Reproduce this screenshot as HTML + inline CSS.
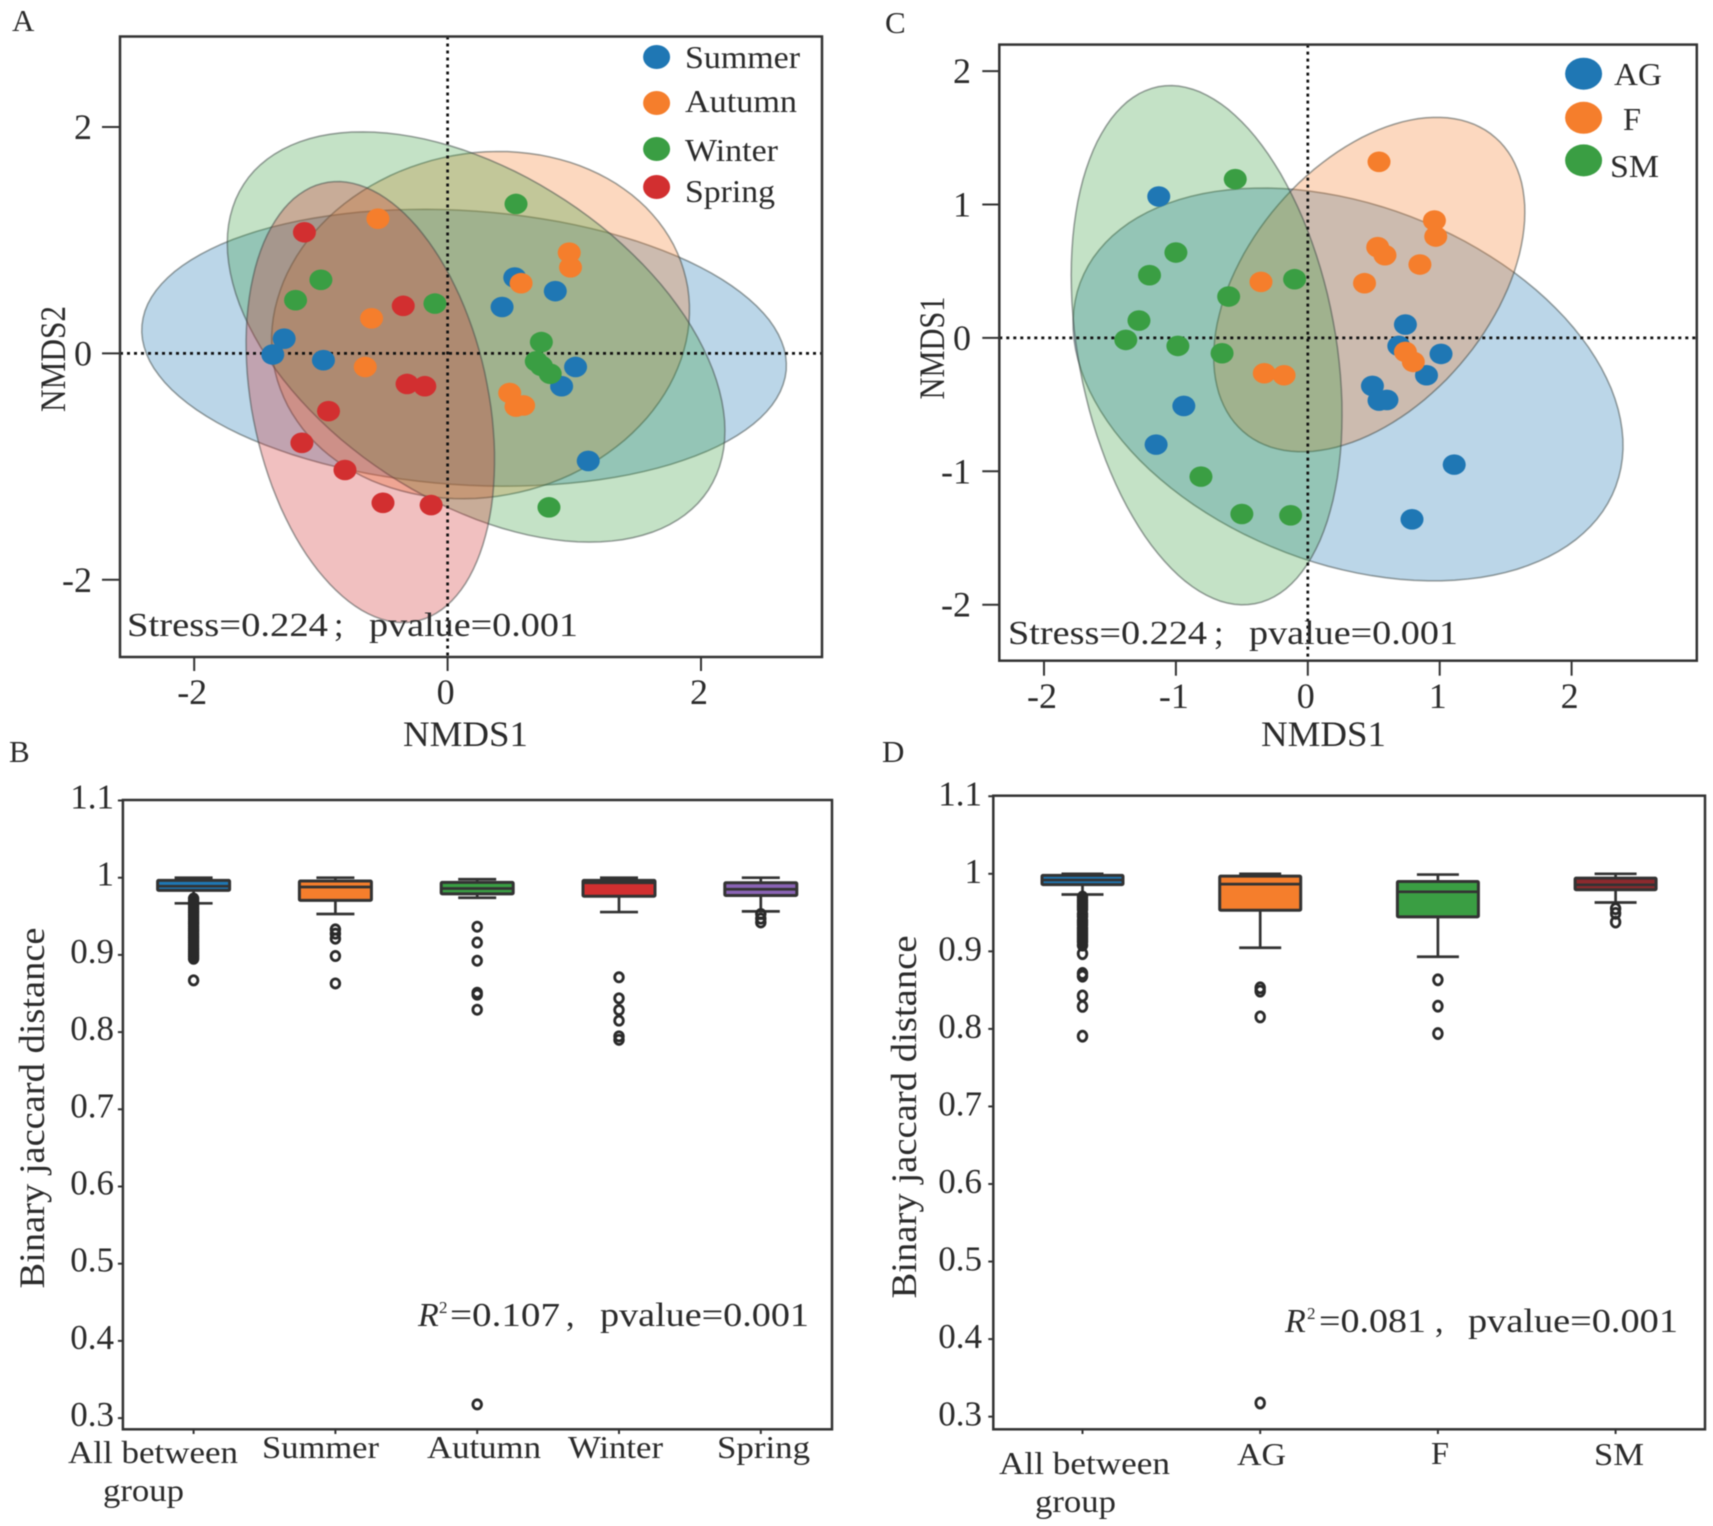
<!DOCTYPE html>
<html lang="en">
<head>
<meta charset="utf-8">
<title>NMDS ordination and Binary Jaccard distance panels</title>
<style>
html,body{margin:0;padding:0;background:#fff;width:1713px;height:1526px;overflow:hidden}
svg{display:block;filter:blur(.55px)}
text{font-family:"Liberation Serif","Noto Serif CJK SC",serif;fill:#2b2b2b}
</style>
</head>
<body>
<svg id="figure" xmlns="http://www.w3.org/2000/svg" width="1713" height="1526" viewBox="0 0 1713 1526">
  <rect width="1713" height="1526" fill="#fff"/>

  <text x="12" y="31" font-size="31">A</text>
  <text x="9" y="762" font-size="31">B</text>
  <text x="885" y="33" font-size="31">C</text>
  <text x="882" y="762" font-size="31">D</text>

  <g id="panel-a"></g>
  <g id="panel-c"></g>
  <g id="panel-b"></g>
  <g id="panel-d"></g>

  <g id="annotations">
    <text x="403" y="746" font-size="36" textLength="125" lengthAdjust="spacingAndGlyphs">NMDS1</text>
    <text transform="translate(65 359) rotate(-90)" text-anchor="middle" font-size="36" textLength="106" lengthAdjust="spacingAndGlyphs">NMDS2</text>
    <text x="685" y="68" font-size="32" textLength="115" lengthAdjust="spacingAndGlyphs">Summer</text>
    <text x="685" y="112" font-size="32" textLength="112" lengthAdjust="spacingAndGlyphs">Autumn</text>
    <text x="685" y="161" font-size="32" textLength="93" lengthAdjust="spacingAndGlyphs">Winter</text>
    <text x="685" y="202" font-size="32" textLength="90" lengthAdjust="spacingAndGlyphs">Spring</text>
    <text x="127" y="636" font-size="34" textLength="201" lengthAdjust="spacingAndGlyphs">Stress=0.224</text>
    <text x="334" y="636" font-size="34">;</text>
    <text x="369" y="636" font-size="34" textLength="209" lengthAdjust="spacingAndGlyphs">pvalue=0.001</text>

    <text x="1261" y="746" font-size="36" textLength="125" lengthAdjust="spacingAndGlyphs">NMDS1</text>
    <text transform="translate(944 348) rotate(-90)" text-anchor="middle" font-size="36" textLength="103" lengthAdjust="spacingAndGlyphs">NMDS1</text>
    <text x="1614" y="85" font-size="32" textLength="48" lengthAdjust="spacingAndGlyphs">AG</text>
    <text x="1623" y="130" font-size="32" textLength="18" lengthAdjust="spacingAndGlyphs">F</text>
    <text x="1610" y="177" font-size="32" textLength="49" lengthAdjust="spacingAndGlyphs">SM</text>
    <text x="1008" y="644" font-size="34" textLength="199" lengthAdjust="spacingAndGlyphs">Stress=0.224</text>
    <text x="1214" y="644" font-size="34">;</text>
    <text x="1249" y="644" font-size="34" textLength="209" lengthAdjust="spacingAndGlyphs">pvalue=0.001</text>

    <text transform="translate(44 1108) rotate(-90)" text-anchor="middle" font-size="36" textLength="361" lengthAdjust="spacingAndGlyphs">Binary jaccard distance</text>
    <text x="418" y="1326" font-size="34" font-style="italic">R</text>
    <text x="439" y="1313" font-size="17">2</text>
    <text x="450" y="1326" font-size="34" textLength="110" lengthAdjust="spacingAndGlyphs">=0.107</text>
    <text x="566" y="1326" font-size="34">,</text>
    <text x="600" y="1326" font-size="34" textLength="209" lengthAdjust="spacingAndGlyphs">pvalue=0.001</text>
    <text x="68" y="1463" font-size="32" textLength="170" lengthAdjust="spacingAndGlyphs">All between</text>
    <text x="103" y="1501" font-size="32" textLength="81" lengthAdjust="spacingAndGlyphs">group</text>
    <text x="262" y="1458" font-size="32" textLength="117" lengthAdjust="spacingAndGlyphs">Summer</text>
    <text x="427" y="1458" font-size="32" textLength="114" lengthAdjust="spacingAndGlyphs">Autumn</text>
    <text x="568" y="1458" font-size="32" textLength="95" lengthAdjust="spacingAndGlyphs">Winter</text>
    <text x="717" y="1458" font-size="32" textLength="93" lengthAdjust="spacingAndGlyphs">Spring</text>

    <text transform="translate(916 1117) rotate(-90)" text-anchor="middle" font-size="36" textLength="363" lengthAdjust="spacingAndGlyphs">Binary jaccard distance</text>
    <text x="1285" y="1332" font-size="34" font-style="italic">R</text>
    <text x="1307" y="1319" font-size="17">2</text>
    <text x="1319" y="1332" font-size="34" textLength="107" lengthAdjust="spacingAndGlyphs">=0.081</text>
    <text x="1435" y="1332" font-size="34">,</text>
    <text x="1468" y="1332" font-size="34" textLength="210" lengthAdjust="spacingAndGlyphs">pvalue=0.001</text>
    <text x="999" y="1474" font-size="32" textLength="171" lengthAdjust="spacingAndGlyphs">All between</text>
    <text x="1035" y="1512" font-size="32" textLength="81" lengthAdjust="spacingAndGlyphs">group</text>
    <text x="1237" y="1465" font-size="32" textLength="49" lengthAdjust="spacingAndGlyphs">AG</text>
    <text x="1431" y="1464" font-size="32" textLength="18" lengthAdjust="spacingAndGlyphs">F</text>
    <text x="1594" y="1465" font-size="32" textLength="50" lengthAdjust="spacingAndGlyphs">SM</text>
  </g>
</svg>

<script>
/* ---------- Panel A data ---------- */
const aSummerX = [0.53, 0.85, 0.43, -1.29, -1.38, -0.98, 1.01, 0.90, 1.11];
const aSummerY = [0.67, 0.55, 0.41, 0.13, -0.01, -0.06, -0.12, -0.29, -0.95];
const aAutumnX = [-0.55, 0.96, 0.97, 0.58, -0.60, -0.65, 0.49, 0.54, 0.60];
const aAutumnY = [1.19, 0.89, 0.76, 0.62, 0.31, -0.12, -0.35, -0.47, -0.46];
const aWinterX = [0.54, -1.00, -1.20, -0.10, 0.74, 0.70, 0.74, 0.81, 0.80];
const aWinterY = [1.32, 0.65, 0.47, 0.44, 0.10, -0.07, -0.11, -0.18, -1.36];
const aSpringX = [-1.13, -0.35, -0.32, -0.18, -0.94, -1.15, -0.81, -0.51, -0.13];
const aSpringY = [1.07, 0.42, -0.27, -0.29, -0.51, -0.79, -1.03, -1.32, -1.34];
/* confidence ellipses, in axis units: summer, autumn, winter, spring */
const aEllipseCx = [0.13, 0.26, 0.225, -0.61];
const aEllipseCy = [0.05, 0.25, 0.145, -0.43];
const aEllipseMajor = [2.55, 1.68, 2.285, 1.97];
const aEllipseMinor = [1.21, 1.50, 1.385, 0.935];
const aEllipseAngle = [-4.5, 25, -40, -80.2];
const aTicks = [-2, 0, 2];

/* ---------- Panel C data ---------- */
const cAgX = [-1.13, 0.74, 0.69, 1.01, 0.90, 0.49, 0.54, 0.60, -0.94, -1.15, 1.11, 0.79];
const cAgY = [1.06, 0.10, -0.06, -0.12, -0.28, -0.36, -0.47, -0.465, -0.51, -0.80, -0.95, -1.36];
const cFX = [0.54, 0.96, 0.97, 0.53, 0.585, 0.85, 0.43, -0.355, 0.74, 0.80, -0.33, -0.18];
const cFY = [1.32, 0.88, 0.76, 0.68, 0.62, 0.55, 0.41, 0.42, -0.105, -0.18, -0.265, -0.28];
const cSmX = [-0.55, -1.00, -1.20, -0.10, -0.60, -1.28, -1.38, -0.985, -0.65, -0.81, -0.50, -0.13];
const cSmY = [1.19, 0.64, 0.47, 0.44, 0.31, 0.13, -0.015, -0.06, -0.115, -1.04, -1.32, -1.33];
/* confidence ellipses, in axis units: AG, F, SM */
const cEllipseCx = [0.305, 0.466, -0.767];
const cEllipseCy = [-0.349, 0.40, -0.055];
const cEllipseMajor = [2.169, 1.459, 1.972];
const cEllipseMinor = [1.345, 0.913, 0.976];
const cEllipseAngle = [-20.6, 49, -79.3];
const cTicksX = [-2, -1, 0, 1, 2];
const cTicksY = [2, 1, 0, -1, -2];

/* ---------- Panel B data ---------- */
const distanceTicks = [1.1, 1, 0.9, 0.8, 0.7, 0.6, 0.5, 0.4, 0.3];
const distanceTickLabels = ['1.1', '1', '0.9', '0.8', '0.7', '0.6', '0.5', '0.4', '0.3'];
const bQ1 = [0.9836, 0.9706, 0.979, 0.976, 0.977];
const bMedian = [0.989, 0.988, 0.986, 0.9935, 0.985];
const bQ3 = [0.9965, 0.9957, 0.994, 0.9965, 0.9935];
const bWhiskerLow = [0.9668, 0.953, 0.974, 0.9555, 0.9564];
const bWhiskerHigh = [1.0, 1.0, 0.998, 1.0, 1.0];
const bOutliersAll = [0.973, 0.97, 0.967, 0.964, 0.961, 0.958, 0.955, 0.952, 0.949, 0.946, 0.943, 0.94, 0.937, 0.934, 0.931, 0.928, 0.925, 0.922, 0.919, 0.916, 0.913, 0.91, 0.907, 0.904, 0.901, 0.898, 0.895, 0.867];
const bOutliersSummer = [0.933, 0.9275, 0.921, 0.8985, 0.863];
const bOutliersAutumn = [0.9365, 0.916, 0.8925, 0.851, 0.8485, 0.829, 0.3177];
const bOutliersWinter = [0.871, 0.8437, 0.8286, 0.8148, 0.7945, 0.79];
const bOutliersSpring = [0.953, 0.947, 0.942];

/* ---------- Panel D data ---------- */
const dQ1 = [0.986, 0.953, 0.9445, 0.9794];
const dMedian = [0.992, 0.9867, 0.9768, 0.9858];
const dQ3 = [0.998, 0.997, 0.99, 0.9944];
const dWhiskerLow = [0.9733, 0.9046, 0.893, 0.963];
const dWhiskerHigh = [1.0, 1.0, 0.999, 1.0];
const dOutliersAll = [0.97, 0.966, 0.963, 0.96, 0.957, 0.954, 0.948, 0.945, 0.94, 0.937, 0.934, 0.93, 0.927, 0.924, 0.921, 0.918, 0.915, 0.912, 0.908, 0.897, 0.8715, 0.868, 0.8426, 0.829, 0.7906];
const dOutliersAg = [0.853, 0.8487, 0.8155, 0.3176];
const dOutliersF = [0.8633, 0.8293, 0.794];
const dOutliersSm = [0.955, 0.949, 0.9377];

/* ---------- Axis functions ---------- */
const xA = v => 447.6 + 126.7 * v;
const yA = v => 353.4 - 113.2 * v;
const xC = v => 1307.8 + 131.9 * v;
const yC = v => 337.9 - 133.4 * v;
const xB = i => 193.6 + 141.8 * i;
const yB = v => 877.7 + (1 - v) * 772;
const xD = i => 1082.5 + 177.7 * i;
const yD = v => 873.8 + (1 - v) * 775.5;

const SVG_NS = 'http://www.w3.org/2000/svg';
const INK = '#333333';

function mk(tag, attrs, parent) {
  const el = document.createElementNS(SVG_NS, tag);
  for (const k in attrs) el.setAttribute(k, attrs[k]);
  parent.appendChild(el);
  return el;
}

function drawFrame(g, prefix, l, t, r, b) {
  const frame = mk('rect', {x: l, y: t, width: r - l, height: b - t, fill: 'none', stroke: INK, 'stroke-width': 2.5}, g);
  
  
}

function drawEllipses(g, prefix, names, colors, cx, cy, major, minor, angle, xs, ys) {
  names.forEach((name, i) => {
    const th = angle[i] * Math.PI / 180;
    let d = '';
    for (let s = 0; s < 120; s++) {
      const t = s / 120 * 2 * Math.PI;
      const u = major[i] * Math.cos(t);
      const v = minor[i] * Math.sin(t);
      const px = xs(cx[i] + u * Math.cos(th) - v * Math.sin(th));
      const py = ys(cy[i] + u * Math.sin(th) + v * Math.cos(th));
      d += (s ? 'L' : 'M') + px.toFixed(1) + ' ' + py.toFixed(1);
    }
    const e = mk('path', {d: d + 'Z', fill: colors[i], 'fill-opacity': 0.3, stroke: '#3f4a48', 'stroke-opacity': 0.5, 'stroke-width': 1.6}, g);
    
    
  });
}

function drawZeroLines(g, prefix, l, t, r, b, x0, y0) {
  const h = mk('line', {x1: l, x2: r, y1: y0, y2: y0, stroke: '#111', 'stroke-width': 2.7, 'stroke-dasharray': '3 4'}, g);
  
  
  const v = mk('line', {x1: x0, x2: x0, y1: t, y2: b, stroke: '#111', 'stroke-width': 2.7, 'stroke-dasharray': '3 4'}, g);
  
  
}

function drawPoints(g, name, color, xv, yv, xs, ys) {
  xv.forEach((v, i) => {
    const c = mk('ellipse', {cx: xs(v), cy: ys(yv[i]), rx: 11.5, ry: 10.3, fill: color}, g);
    
    
  });
}

function drawTicksX(g, prefix, ticks, xs, bottom, len, offset, labelBase, size) {
  ticks.forEach(v => {
    const tick = mk('line', {x1: xs(v), x2: xs(v), y1: bottom, y2: bottom + len, stroke: INK, 'stroke-width': 2}, g);
    
    
    const label = mk('text', {x: xs(v) + offset, y: labelBase, 'font-size': size, 'text-anchor': 'middle'}, g);
    
    
    label.textContent = String(v);
  });
}

function drawTicksY(g, prefix, ticks, labels, ys, left, len, labelRight, size, base) {
  ticks.forEach((v, i) => {
    const tick = mk('line', {x1: left - len, x2: left, y1: ys(v), y2: ys(v), stroke: INK, 'stroke-width': 2}, g);
    
    
    const label = mk('text', {x: labelRight, y: ys(v) + base, 'font-size': size, 'text-anchor': 'end'}, g);
    
    
    label.textContent = labels[i];
  });
}

function drawLegendDot(g, name, color, cx, cy, rx, ry) {
  const dot = mk('ellipse', {cx: cx, cy: cy, rx: rx, ry: ry, fill: color}, g);
  
  
}

function drawBoxes(g, prefix, names, colors, q1, med, q3, lo, hi, outliers, xs, ys, boxW, capW, orx, ory) {
  names.forEach((name, i) => {
    const x = xs(i);
    const lines = [
      [x, ys(q1[i]), x, ys(lo[i]), 'whisker-low'],
      [x, ys(q3[i]), x, ys(hi[i]), 'whisker-high'],
      [x - capW / 2, ys(lo[i]), x + capW / 2, ys(lo[i]), 'cap-low'],
      [x - capW / 2, ys(hi[i]), x + capW / 2, ys(hi[i]), 'cap-high']
    ];
    lines.forEach(s => {
      const ln = mk('line', {x1: s[0], y1: s[1], x2: s[2], y2: s[3], stroke: INK, 'stroke-width': 2.7}, g);
      
      
    });
    const box = mk('rect', {x: x - boxW / 2, y: ys(q3[i]), width: boxW, height: ys(q1[i]) - ys(q3[i]), fill: colors[i], stroke: INK, 'stroke-width': 3, rx: 1}, g);
    
    
    const m = mk('line', {x1: x - boxW / 2, x2: x + boxW / 2, y1: ys(med[i]), y2: ys(med[i]), stroke: INK, 'stroke-width': 2.7}, g);
    
    
    outliers[i].forEach(v => {
      const o = mk('ellipse', {cx: x, cy: ys(v), rx: orx, ry: ory, fill: 'none', stroke: '#2a2a2a', 'stroke-width': 2.8}, g);
      
      
    });
  });
}

const BLUE = '#1f77b4';
const ORANGE = '#f57e2c';
const GREEN = '#3a9e43';
const RED = '#d22f30';
const PURPLE = '#8a63b5';
const DARKRED = '#8c2a2e';

/* ---------- Panel A ---------- */
const gA = document.getElementById('panel-a');
drawEllipses(gA, 'panel-a', ['summer', 'autumn', 'winter', 'spring'], [BLUE, ORANGE, GREEN, RED], aEllipseCx, aEllipseCy, aEllipseMajor, aEllipseMinor, aEllipseAngle, xA, yA);
drawZeroLines(gA, 'panel-a', 120, 36.5, 822, 657, xA(0), yA(0));
drawPoints(gA, 'summer', BLUE, aSummerX, aSummerY, xA, yA);
drawPoints(gA, 'autumn', ORANGE, aAutumnX, aAutumnY, xA, yA);
drawPoints(gA, 'winter', GREEN, aWinterX, aWinterY, xA, yA);
drawPoints(gA, 'spring', RED, aSpringX, aSpringY, xA, yA);
drawFrame(gA, 'panel-a', 120, 36.5, 822, 657);
drawTicksX(gA, 'panel-a', aTicks, xA, 657, 14, -2, 704, 36);
drawTicksY(gA, 'panel-a', aTicks, aTicks.map(String), yA, 120, 18, 92, 36, 12);
drawLegendDot(gA, 'panel-a-legend-marker-summer', BLUE, 656.6, 57, 13.5, 12);
drawLegendDot(gA, 'panel-a-legend-marker-autumn', ORANGE, 656.6, 103, 13.5, 12);
drawLegendDot(gA, 'panel-a-legend-marker-winter', GREEN, 656.6, 149, 13.5, 12);
drawLegendDot(gA, 'panel-a-legend-marker-spring', RED, 656.6, 187, 13.5, 12);

/* ---------- Panel C ---------- */
const gC = document.getElementById('panel-c');
drawEllipses(gC, 'panel-c', ['ag', 'f', 'sm'], [BLUE, ORANGE, GREEN], cEllipseCx, cEllipseCy, cEllipseMajor, cEllipseMinor, cEllipseAngle, xC, yC);
drawZeroLines(gC, 'panel-c', 999.3, 44.6, 1696.8, 660.7, xC(0), yC(0));
drawPoints(gC, 'ag', BLUE, cAgX, cAgY, xC, yC);
drawPoints(gC, 'f', ORANGE, cFX, cFY, xC, yC);
drawPoints(gC, 'sm', GREEN, cSmX, cSmY, xC, yC);
drawFrame(gC, 'panel-c', 999.3, 44.6, 1696.8, 660.7);
drawTicksX(gC, 'panel-c', cTicksX, xC, 660.7, 15, -2, 708, 36);
drawTicksY(gC, 'panel-c', cTicksY, cTicksY.map(String), yC, 999.3, 17, 971, 36, 12);
drawLegendDot(gC, 'panel-c-legend-marker-ag', BLUE, 1583.6, 73.7, 18.5, 16);
drawLegendDot(gC, 'panel-c-legend-marker-f', ORANGE, 1583.6, 117.8, 18.5, 16);
drawLegendDot(gC, 'panel-c-legend-marker-sm', GREEN, 1583.6, 160.4, 18.5, 16);

/* ---------- Panel B ---------- */
const gB = document.getElementById('panel-b');
drawFrame(gB, 'panel-b', 122.9, 800, 832, 1429.3);
['all-between-group', 'summer', 'autumn', 'winter', 'spring'].forEach((name, i) => {
  const t = mk('line', {x1: xB(i), x2: xB(i), y1: 1429.3, y2: 1434, stroke: INK, 'stroke-width': 2}, gB);
  
  
});
drawTicksY(gB, 'panel-b', distanceTicks, distanceTickLabels, yB, 122.9, 5, 114, 35, 8);
drawBoxes(gB, 'panel-b', ['all-between-group', 'summer', 'autumn', 'winter', 'spring'], [BLUE, ORANGE, GREEN, RED, PURPLE], bQ1, bMedian, bQ3, bWhiskerLow, bWhiskerHigh, [bOutliersAll, bOutliersSummer, bOutliersAutumn, bOutliersWinter, bOutliersSpring], xB, yB, 72, 38, 4.3, 4.6);

/* ---------- Panel D ---------- */
const gD = document.getElementById('panel-d');
drawFrame(gD, 'panel-d', 993.3, 795.7, 1705, 1429.3);
['all-between-group', 'ag', 'f', 'sm'].forEach((name, i) => {
  const t = mk('line', {x1: xD(i), x2: xD(i), y1: 1429.3, y2: 1434, stroke: INK, 'stroke-width': 2}, gD);
  
  
});
drawTicksY(gD, 'panel-d', distanceTicks, distanceTickLabels, yD, 993.3, 5, 982, 35, 9);
drawBoxes(gD, 'panel-d', ['all-between-group', 'ag', 'f', 'sm'], [BLUE, ORANGE, GREEN, DARKRED], dQ1, dMedian, dQ3, dWhiskerLow, dWhiskerHigh, [dOutliersAll, dOutliersAg, dOutliersF, dOutliersSm], xD, yD, 81, 42, 4.3, 5);
</script>
</body>
</html>
